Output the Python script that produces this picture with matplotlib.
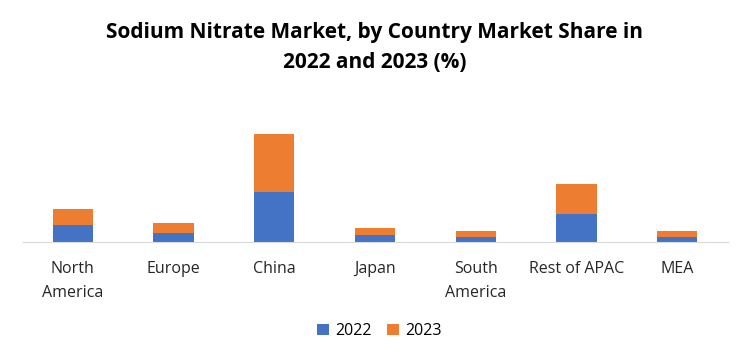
import numpy as np
import matplotlib
matplotlib.use('Agg')
from matplotlib import pyplot as plt

# values (bar heights)
countries = ['North\nAmerica', 'Europe', 'China', 'Japan', 'South\nAmerica', 'Rest of APAC', 'MEA']
share_2022 = [16.5, 8.5, 50, 6.5, 4.5, 27.5, 4.5]
share_2023 = [16, 10, 58, 7, 6, 30, 6]

plt.rcParams['font.family'] = ['Open Sans', 'DejaVu Sans']

fig = plt.figure(figsize=(7.5, 3.61), dpi=100)
ax = fig.add_axes([0.030, 0.33, 0.940, 0.39])

x = np.arange(len(countries))
ax.bar(x, share_2022, width=0.4, color='#4472C4', label='2022')
ax.bar(x, share_2023, width=0.4, bottom=share_2022, color='#ED7D31', label='2023')

ax.set_xlim(-0.5, len(countries) - 0.5)
ax.set_ylim(0, 141)
ax.set_xticks(x)
ax.set_xticklabels(countries, fontsize=11.5, color='#262626', linespacing=1.65)
ax.tick_params(axis='x', length=0, pad=14)
ax.set_yticks([])
for side in ['top', 'right', 'left']:
    ax.spines[side].set_visible(False)
ax.spines['bottom'].set_color('#D9D9D9')

fig.text(0.5, 0.868, 'Sodium Nitrate Market, by Country Market Share in\n2022 and 2023 (%)',
         ha='center', va='center', fontsize=15, fontweight='bold', linespacing=1.6)

fig.legend(loc='center', bbox_to_anchor=(0.506, 0.083), ncol=2, frameon=False,
           fontsize=11.5, handlelength=0.7, handleheight=0.7, columnspacing=1.0, handletextpad=0.4)

fig.savefig('out.png', dpi=100)
